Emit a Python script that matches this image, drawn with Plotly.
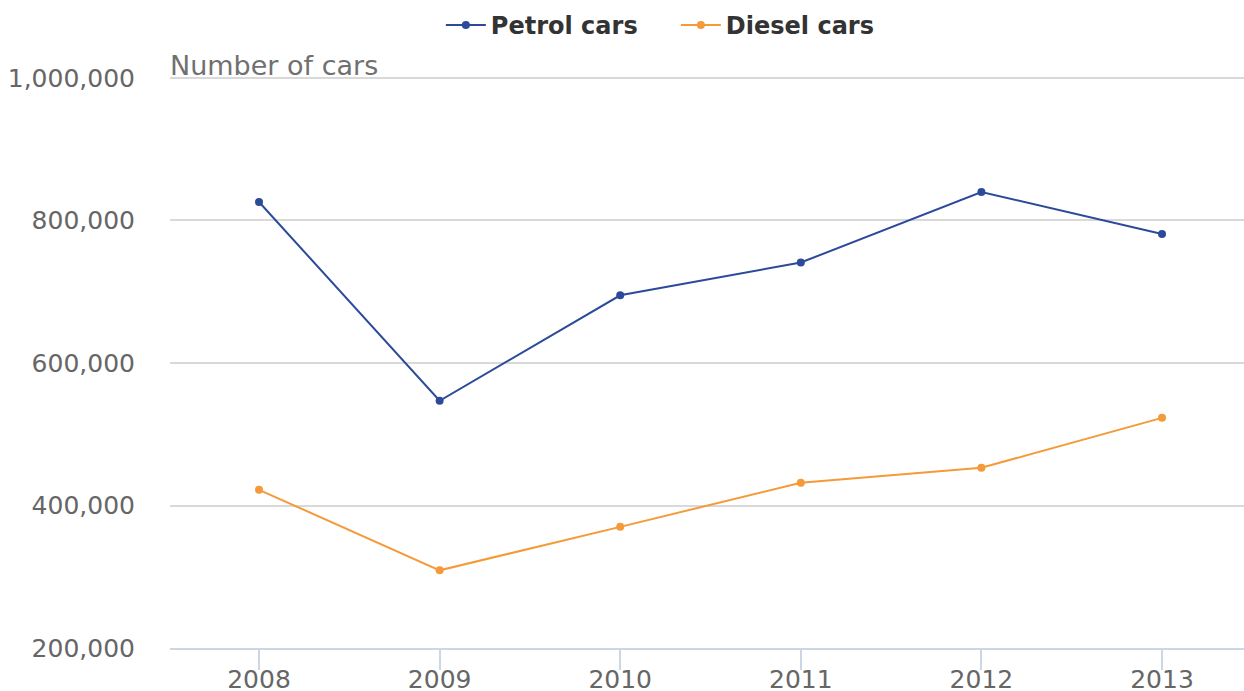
import plotly.graph_objects as go

years = [2008, 2009, 2010, 2011, 2012, 2013]
petrol = [826000, 547000, 695000, 741000, 840000, 781000]
diesel = [422000, 309000, 370000, 432000, 453000, 523000]
y_ticks = [200000, 400000, 600000, 800000, 1000000]
y_tick_text = ["200,000", "400,000", "600,000", "800,000", "1,000,000"]

font_family = "DejaVu Sans"

fig = go.Figure()
fig.add_trace(go.Scatter(x=years, y=petrol, name="Petrol cars", mode="lines+markers",
                         line=dict(color="#2b4a9a", width=2), marker=dict(size=8, color="#2b4a9a")))
fig.add_trace(go.Scatter(x=years, y=diesel, name="Diesel cars", mode="lines+markers",
                         line=dict(color="#f59a38", width=2), marker=dict(size=8, color="#f59a38")))

fig.update_layout(
    width=1244, height=691,
    margin=dict(l=170, r=0, t=75, b=43, autoexpand=False),
    plot_bgcolor="white", paper_bgcolor="white",
    font=dict(family=font_family, size=25, color="#666666"),
    showlegend=True,
    legend=dict(orientation="h", xref="container", x=0.3544, xanchor="left",
                yref="container", y=0.9957, yanchor="top",
                font=dict(size=24, color="#333333", family="DejaVu Sans", weight="bold"),
                itemwidth=40, entrywidth=180, entrywidthmode="pixels", traceorder="normal"),
    xaxis=dict(range=[2007.507, 2013.454], tickvals=years, ticktext=[str(y) for y in years],
               showgrid=False, showline=True, linecolor="#ccd6e5", linewidth=2,
               ticks="outside", ticklen=20, tickcolor="#ccd6e5", tickwidth=2,
               ticklabelstandoff=-12,
               tickfont=dict(size=25, color="#666666"), zeroline=False, automargin=False),
    yaxis=dict(range=[200000, 1004200], tickvals=y_ticks, ticktext=y_tick_text,
               showgrid=True, gridcolor="#d9d9d9", gridwidth=2, zeroline=False,
               showline=False, ticks="", ticklabelstandoff=34, automargin=False,
               tickfont=dict(size=25, color="#666666")),
)
fig.add_annotation(text="Number of cars", xref="paper", yref="y", x=0, y=1000000,
                   xanchor="left", yanchor="bottom", showarrow=False, yshift=-5, xshift=-2,
                   font=dict(size=27, color="#707070"))

fig.write_html("out.html")
